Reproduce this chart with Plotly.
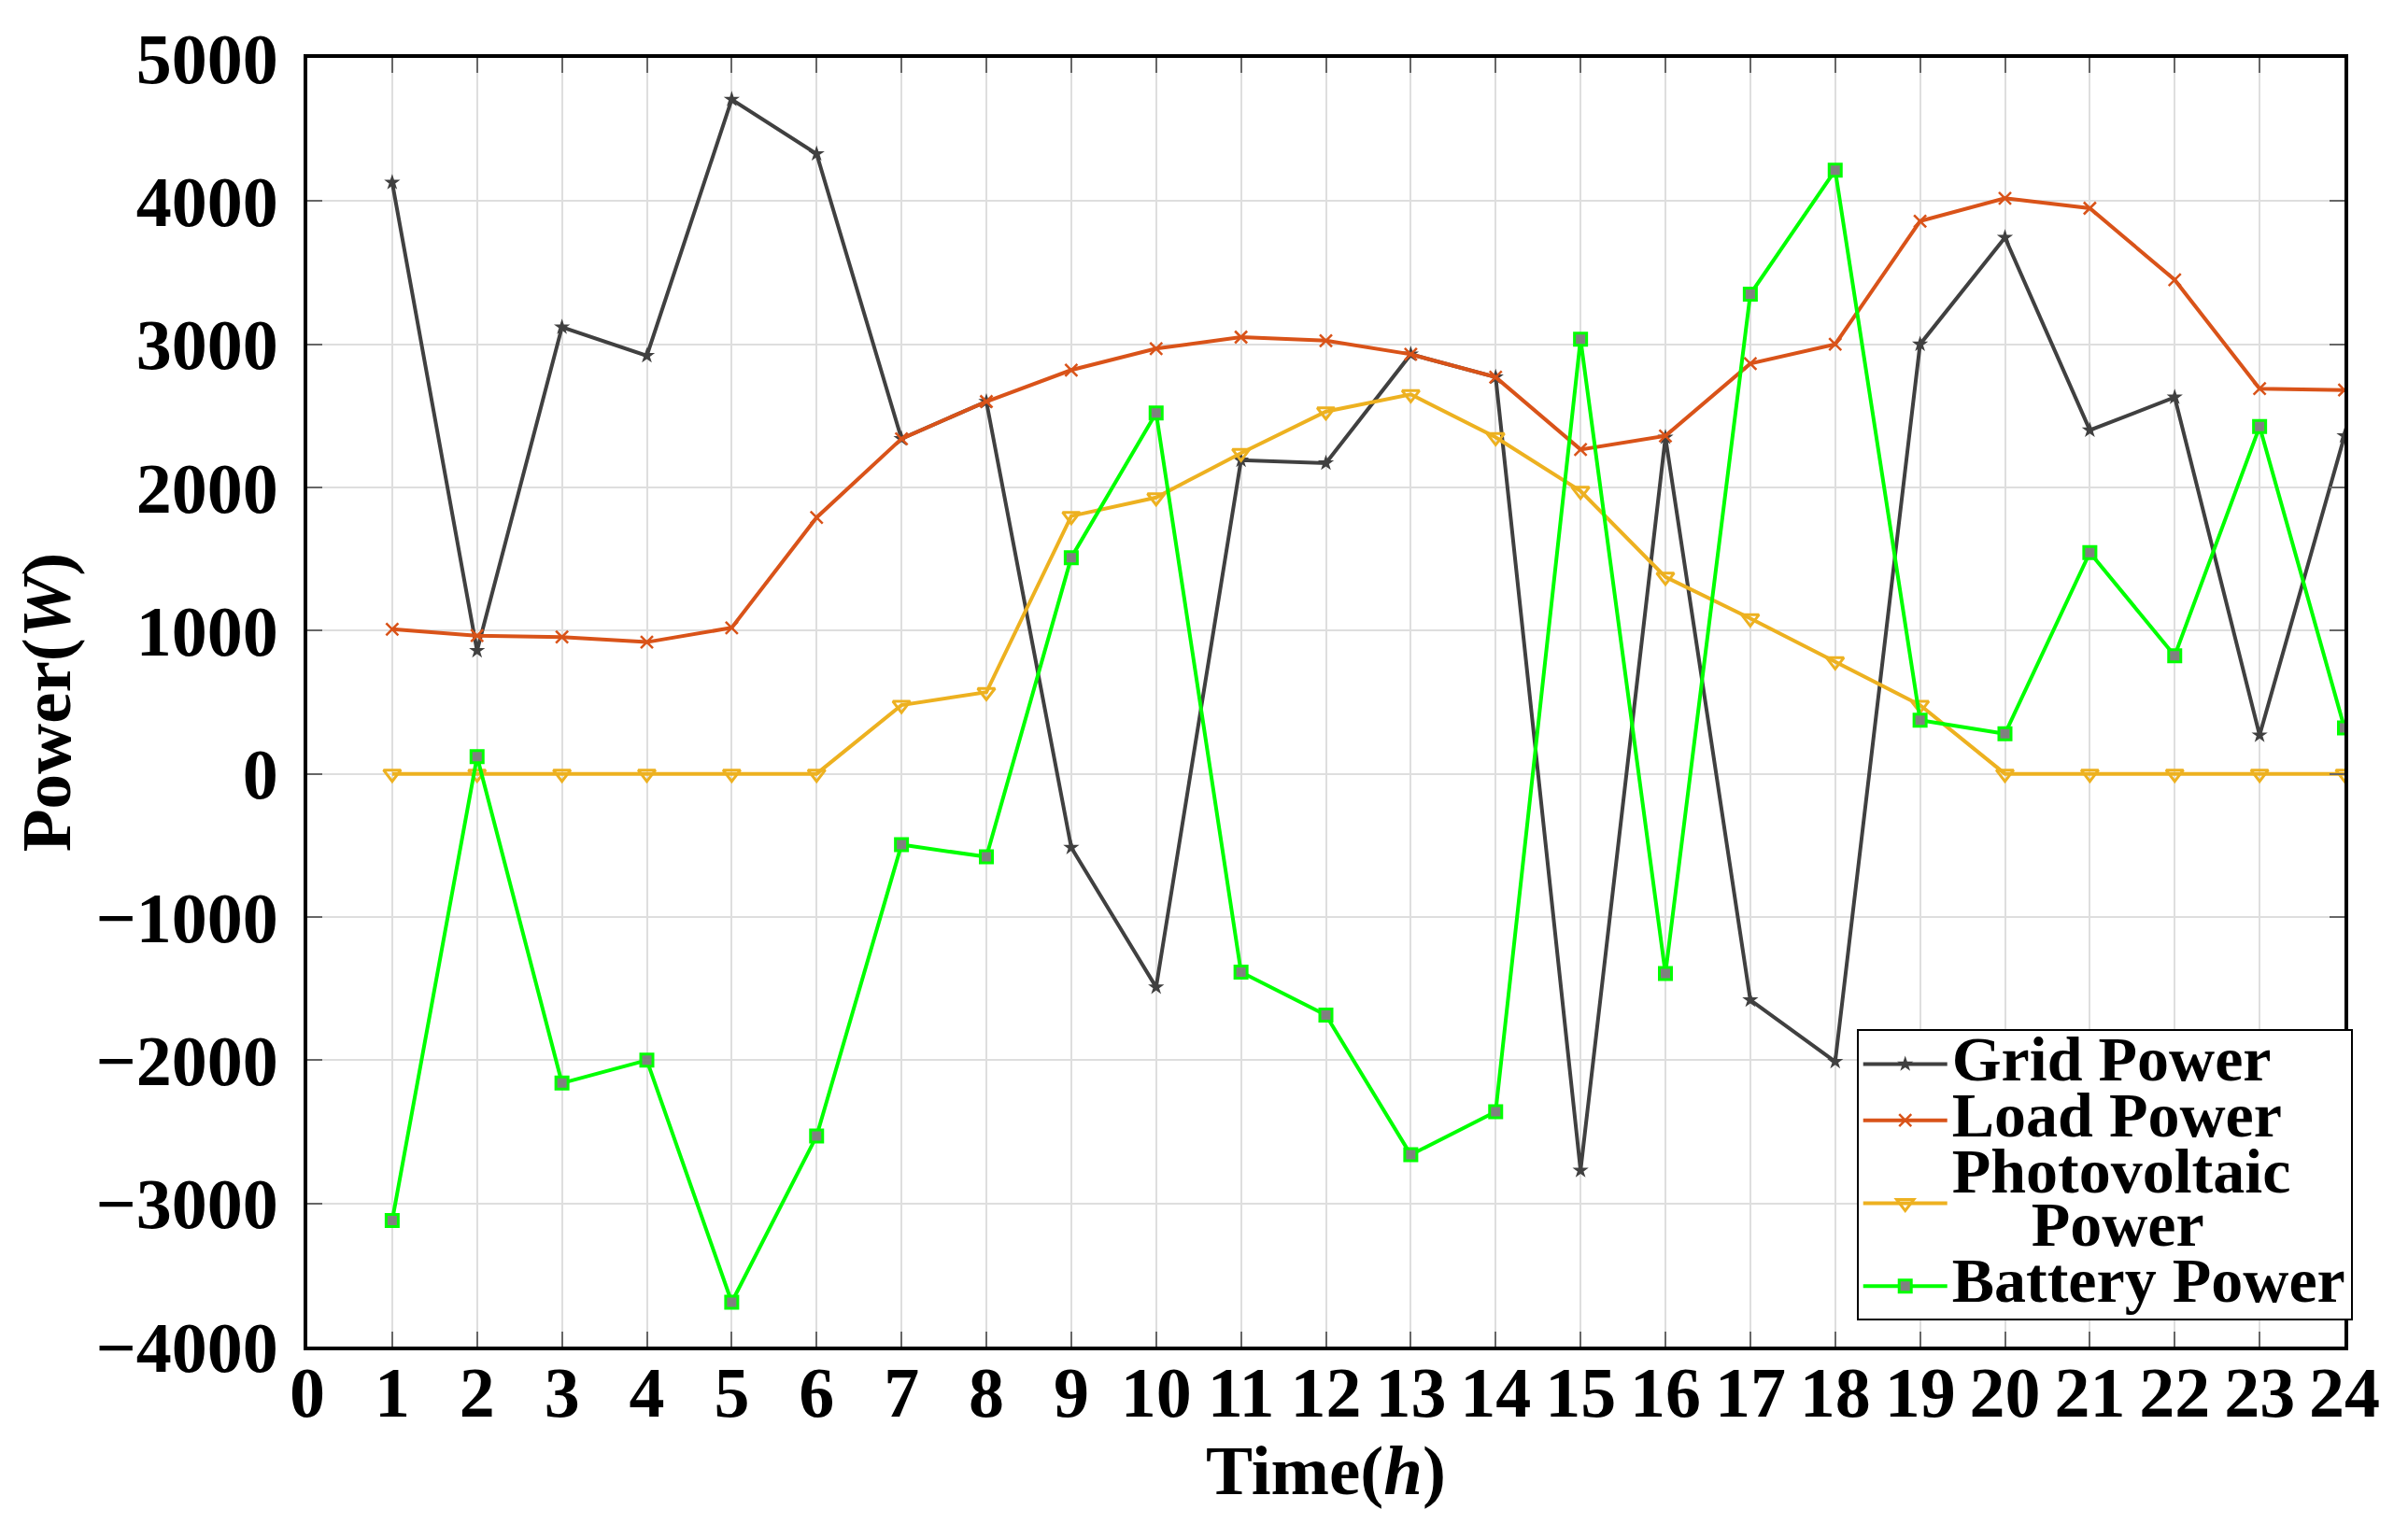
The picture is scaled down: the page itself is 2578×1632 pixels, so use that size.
import plotly.graph_objects as go

hours = list(range(1, 25))

grid_power = [4130, 860, 3120, 2920, 4710, 4330, 2340, 2600, -515, -1490, 2190, 2170,
              2930, 2770, -2770, 2350, -1580, -2010, 3000, 3745, 2400, 2630, 270, 2360]
load_power = [1010, 965, 955, 920, 1020, 1790, 2340, 2600, 2820, 2970, 3050, 3025,
              2930, 2770, 2265, 2360, 2865, 3000, 3860, 4020, 3950, 3450, 2690, 2680]
pv_power = [0, 0, 0, 0, 0, 0, 480, 570, 1800, 1930, 2240, 2530,
            2650, 2350, 1975, 1375, 1085, 785, 480, 0, 0, 0, 0, 0]
battery_power = [-3120, 120, -2160, -2000, -3690, -2530, -495, -580, 1510, 2520, -1385, -1685,
                 -2660, -2360, 3035, -1395, 3350, 4215, 375, 280, 1545, 825, 2425, 320]

FONT = "Liberation Serif"


def big(txt):
    # legend rows are spaced by legend.font.size, so the text itself is enlarged here
    return "<span style='font-size:68px'>" + txt + "</span>"


fig = go.Figure()
fig.add_trace(go.Scatter(x=hours, y=grid_power, mode="lines+markers", name=big("Grid Power"),
                         line=dict(color="#404040", width=4),
                         marker=dict(symbol="star", size=13, color="#404040")))
fig.add_trace(go.Scatter(x=hours, y=load_power, mode="lines+markers", name=big("Load Power"),
                         line=dict(color="#D95319", width=4),
                         marker=dict(symbol="x-thin-open", size=13,
                                     line=dict(color="#D95319", width=2.5))))
fig.add_trace(go.Scatter(x=hours, y=pv_power, mode="lines+markers",
                         name=big("Photovoltaic") + "<br>" + big("\u00a0\u00a0\u00a0\u00a0\u00a0Power"),
                         line=dict(color="#EDB120", width=4),
                         marker=dict(symbol="triangle-down-open", size=16,
                                     line=dict(color="#EDB120", width=3))))
fig.add_trace(go.Scatter(x=hours, y=battery_power, mode="lines+markers", name=big("Battery Power"),
                         line=dict(color="#00FF00", width=4),
                         marker=dict(symbol="square", size=13, color="#808080",
                                     line=dict(color="#00FF00", width=3))))

axis_common = dict(
    showline=True, linecolor="black", linewidth=4, mirror="ticks",
    ticks="inside", ticklen=16, tickwidth=2, tickcolor="#666666",
    showgrid=True, gridcolor="#dedede", gridwidth=2,
    zeroline=False,
    tickfont=dict(family=FONT, size=76, color="black", weight="bold"),
)

fig.update_xaxes(range=[0, 24], dtick=1, tick0=0, ticklabelstandoff=-20,
                 title=dict(text="Time(<i>h</i>)", standoff=0,
                            font=dict(family=FONT, size=75, color="black", weight="bold")),
                 **axis_common)
fig.update_yaxes(range=[-4000, 5000], dtick=1000, tick0=0, ticklabelstandoff=12,
                 title=dict(text="Power(<i>W</i>)", standoff=6,
                            font=dict(family=FONT, size=75, color="black", weight="bold")),
                 **axis_common)

# the page body adds an 8 px offset, so margins are trimmed by that much
fig.update_layout(
    width=2578, height=1632,
    paper_bgcolor="white", plot_bgcolor="white",
    margin=dict(l=321, r=76, t=54, b=198, autoexpand=False),
    showlegend=True,
    legend=dict(x=1.004, xanchor="right", y=0.02, yanchor="bottom",
                bgcolor="white", bordercolor="black", borderwidth=2,
                font=dict(family=FONT, size=44, color="black", weight="bold"),
                tracegroupgap=0, itemwidth=90),
)

fig.write_html("out.html")
